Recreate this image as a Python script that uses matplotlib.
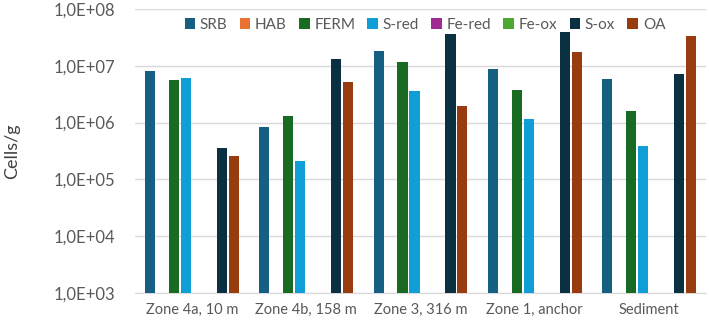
import numpy as np
import matplotlib.pyplot as plt
from matplotlib.ticker import FuncFormatter, FixedLocator

plt.rcParams['font.family'] = ['Lato', 'DejaVu Sans']

zones = ['Zone 4a, 10 m', 'Zone 4b, 158 m', 'Zone 3, 316 m', 'Zone 1, anchor', 'Sediment']
series = ['SRB', 'HAB', 'FERM', 'S-red', 'Fe-red', 'Fe-ox', 'S-ox', 'OA']
colors = ['#156082', '#E97132', '#196B24', '#0F9ED5', '#A02B93', '#4EA72E', '#0B3041', '#983C0F']

nan = np.nan
srb = [8.1e6, 8.3e5, 1.84e7, 8.9e6, 5.8e6]
hab = [nan, nan, nan, nan, nan]
ferm = [5.6e6, 1.33e6, 1.18e7, 3.8e6, 1.63e6]
s_red = [6.2e6, 2.1e5, 3.6e6, 1.16e6, 3.9e5]
fe_red = [nan, nan, nan, nan, nan]
fe_ox = [nan, nan, nan, nan, nan]
s_ox = [3.6e5, 1.31e7, 3.7e7, 3.9e7, 7.1e6]
oa = [2.6e5, 5.2e6, 2.0e6, 1.77e7, 3.3e7]
values = [srb, hab, ferm, s_red, fe_red, fe_ox, s_ox, oa]

fig = plt.figure(figsize=(7.09, 3.26), dpi=100)
ax = fig.add_axes([135 / 709, 1 - 293 / 326, 571 / 709, 284 / 326])

x = np.arange(len(zones))
slot = 0.105
for i, (name, vals, c) in enumerate(zip(series, values, colors)):
    ax.bar(x + (i - 3.5) * slot, vals, width=0.088, color=c, label=name, zorder=3)

ax.set_yscale('log')
ax.set_ylim(1e3, 1e8)
ax.set_xlim(-0.5, len(zones) - 0.5)
ax.yaxis.set_major_locator(FixedLocator([1e3, 1e4, 1e5, 1e6, 1e7, 1e8]))
ax.yaxis.set_minor_locator(FixedLocator([]))
ax.yaxis.set_major_formatter(FuncFormatter(lambda v, p: '1,0E+%02d' % round(np.log10(v))))
ax.grid(axis='y', color='#d9d9d9', linewidth=1, zorder=0)
for s in ['top', 'right', 'left']:
    ax.spines[s].set_visible(False)
ax.spines['bottom'].set_color('#d9d9d9')
ax.tick_params(length=0, labelsize=10.5, colors='#595959')
ax.tick_params(axis='y', pad=14, labelsize=12)
ax.tick_params(axis='x', pad=7)
ax.set_xticks(x)
ax.set_xticklabels(zones)
ax.set_ylabel('Cells/g', fontsize=13, color='#404040', labelpad=24)

fig.legend(loc='center', bbox_to_anchor=(425 / 709, 1 - 25 / 326), ncol=8, frameon=False,
           fontsize=11, labelcolor='#595959', handlelength=0.7, handleheight=0.7,
           handletextpad=0.3, columnspacing=0.8)

fig.savefig('out.png', dpi=100)
